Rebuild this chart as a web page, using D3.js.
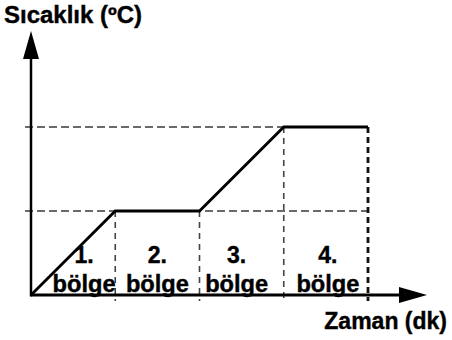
<!DOCTYPE html>
<html>
<head>
<meta charset="utf-8">
<script src="https://cdn.jsdelivr.net/npm/d3@7"></script>
<style>
  html, body { margin: 0; padding: 0; background: #fff; }
  svg { display: block; }
  text { font-family: "Liberation Sans", Arial, sans-serif; font-weight: bold; fill: #000;
         stroke: #000; stroke-width: 0.4px; }
</style>
</head>
<body>
<script>
// Heating curve: time (region boundaries) vs temperature level
const times = [0, 1, 2, 3, 4];
const temps = [0, 1, 1, 2, 2];
const regionLabels = ["1.", "2.", "3.", "4."];
const regionWord = "bölge";
const yTitle = "Sıcaklık (ºC)";
const xTitle = "Zaman (dk)";

const W = 452, H = 340;
const svg = d3.select("body").append("svg").attr("width", W).attr("height", H);

const x = d3.scaleLinear().domain([0, 4]).range([31, 368]);
const y = d3.scaleLinear().domain([0, 2]).range([295, 127]);

const xMax = x.invert(427);   // x-axis arrow tip
const yMax = y.invert(31);    // y-axis arrow tip

// Horizontal dashed guides at each temperature plateau
const levels = Array.from(new Set(temps.filter(t => t > 0)));
svg.selectAll("line.hguide").data(levels).join("line")
  .attr("x1", x(0) - 6).attr("x2", x(4))
  .attr("y1", d => y(d)).attr("y2", d => y(d))
  .attr("stroke", "#3a3a3a").attr("stroke-width", 1.6)
  .attr("stroke-dasharray", "8,4");

// Vertical dashed guides at region boundaries
const bounds = times.slice(1);
svg.selectAll("line.vguide").data(bounds).join("line")
  .attr("x1", d => x(d)).attr("x2", d => x(d))
  .attr("y1", d => y(temps[times.indexOf(d)]))
  .attr("y2", y(0) + 6)
  .attr("stroke", (d, i) => i === bounds.length - 1 ? "#111" : "#444")
  .attr("stroke-width", (d, i) => i === bounds.length - 1 ? 2.8 : 1.6)
  .attr("stroke-dasharray", (d, i) => i === bounds.length - 1 ? "6,4" : "6,5");

// Axes with arrowheads
svg.append("line")
  .attr("x1", x(0)).attr("x2", x(xMax) - 26)
  .attr("y1", y(0)).attr("y2", y(0))
  .attr("stroke", "#000").attr("stroke-width", 3);
svg.append("line")
  .attr("x1", x(0)).attr("x2", x(0))
  .attr("y1", y(0) + 1.5).attr("y2", y(yMax) + 26)
  .attr("stroke", "#000").attr("stroke-width", 2.5);

const tipX = x(xMax), tipY = y(yMax);
svg.append("path")
  .attr("d", `M${tipX},${y(0)} L${tipX - 28},${y(0) - 8} L${tipX - 28},${y(0) + 8} Z`)
  .attr("fill", "#000");
svg.append("path")
  .attr("d", `M${x(0)},${tipY} L${x(0) - 8},${tipY + 28} L${x(0) + 8},${tipY + 28} Z`)
  .attr("fill", "#000");

// Temperature curve
const line = d3.line().x((d, i) => x(times[i])).y(d => y(d));
svg.append("path")
  .attr("d", line(temps))
  .attr("fill", "none")
  .attr("stroke", "#000")
  .attr("stroke-width", 2.8)
  .attr("stroke-linejoin", "miter");

// Region labels, centred in each interval with small nudges
const nudge = [11, 0, -5, 2];
const labelG = svg.selectAll("g.region").data(regionLabels).join("g")
  .attr("transform", (d, i) => `translate(${(x(times[i]) + x(times[i + 1])) / 2 + nudge[i]},0)`);
labelG.append("text")
  .attr("y", 263).attr("text-anchor", "middle")
  .style("font-size", "23px")
  .text(d => d);
labelG.append("text")
  .attr("y", 292).attr("text-anchor", "middle")
  .style("font-size", "23px")
  .attr("textLength", 63).attr("lengthAdjust", "spacingAndGlyphs")
  .text(regionWord);

// Axis titles
svg.append("text")
  .attr("x", 4).attr("y", 23)
  .style("font-size", "23px")
  .attr("textLength", 138).attr("lengthAdjust", "spacingAndGlyphs")
  .text(yTitle);
svg.append("text")
  .attr("x", 447).attr("y", 329).attr("text-anchor", "end")
  .style("font-size", "23px")
  .text(xTitle);
</script>
</body>
</html>
